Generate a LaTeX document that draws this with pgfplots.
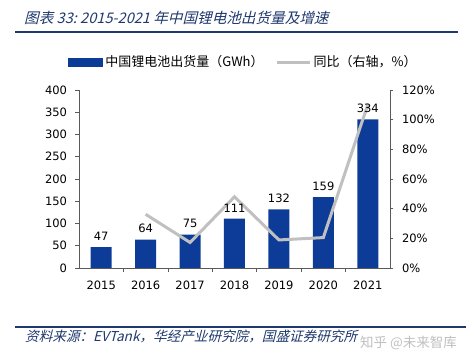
\documentclass[border=0pt]{standalone}
\usepackage{fontspec}
\setmainfont{DejaVu Sans}
\newfontfamily\cjk{Noto Sans CJK SC}
\newfontfamily\cjkit[FakeSlant=0.25]{Noto Sans CJK SC}
\usepackage{pgfplots}
\usepackage{pgfplotstable}
\pgfplotsset{compat=1.18}
\definecolor{barblue}{RGB}{12,60,152}
\definecolor{linegray}{RGB}{192,192,192}
\definecolor{navy}{RGB}{31,56,110}
\definecolor{axisgray}{RGB}{90,90,90}
\pgfplotstableread{
x y
0 47
1 64
2 75
3 111
4 132
5 159
6 334
}\shipments
\pgfplotstableread{
x g
1 36.2
2 17.2
3 48.0
4 18.9
5 20.5
6 110.1
}\growth
\pgfplotsset{common/.style={
  at={(79pt,95pt)}, anchor=south west, scale only axis,
  width=311pt, height=178pt, xmin=-0.5, xmax=6.5,
  /pgf/number format/assume math mode=true,
  ticklabel style={font=\fontsize{11.5}{13}\selectfont, text=black},
  axis line style={axisgray, line width=0.6pt},
  tick align=outside, tick style={axisgray, line width=0.6pt},
  major tick length=3.5pt, minor tick length=4pt}}
\begin{document}
\begin{tikzpicture}
\path[use as bounding box] (0pt,0pt) rectangle (474pt,363pt);
\node[anchor=west, text=navy, font=\cjkit\fontsize{14.6}{16}\selectfont, inner sep=0] at (24pt,345pt) {图表 33:\ 2015-2021 年中国锂电池出货量及增速};
\draw[navy, line width=1.6pt] (15pt,331pt) -- (458pt,331pt);
\draw[navy, line width=1.6pt] (15pt,36pt) -- (466pt,36pt);
\node[anchor=west, text=navy, font=\cjkit\fontsize{13.6}{15}\selectfont, inner sep=0] at (25pt,27pt) {资料来源：EVTank，华经产业研究院，国盛证券研究所};
\node[anchor=west, text=black!25, font=\cjk\fontsize{13.5}{15}\selectfont, inner sep=0] at (360pt,20pt) {知乎 @未来智库};
\begin{axis}[common,
  ymin=0, ymax=400,
  axis x line*=bottom, axis y line*=left,
  xtick={0,...,6}, xticklabels={2015,2016,2017,2018,2019,2020,2021},
  major x tick style={draw=none},
  minor xtick={0.5,1.5,...,5.5},
  ytick={0,50,...,400},
  xticklabel style={yshift=-6pt},
  yticklabel style={xshift=-5pt},
  legend columns=2,
  legend style={at={(0.529,1.157)}, anchor=center, draw=none, fill=none,
    font=\cjk\fontsize{13}{15}\selectfont,
    /tikz/every even column/.append style={column sep=10pt}},
]
\addplot[ybar, bar width=21pt, fill=barblue, draw=none, bar shift=0pt,
  legend image code/.code={\fill[barblue] (0pt,-4.5pt) rectangle (35pt,4.5pt);}]
  table[x=x, y=y] {\shipments};
\addlegendentry{中国锂电池出货量（GWh）}
\addlegendimage{linegray, line width=3pt, legend image code/.code={\draw[linegray, line width=3pt] (0pt,0pt) -- (33pt,0pt);}}
\addlegendentry{同比（右轴，\%）}
\end{axis}
\begin{axis}[common,
  ymin=0, ymax=120,
  axis x line=none, axis y line*=right,
  ytick={0,20,...,120},
  yticklabel={\pgfmathprintnumber{\tick}\%},
  yticklabel style={xshift=5pt},
]
\addplot[linegray, line width=3pt] table[x=x, y=g] {\growth};
\end{axis}
\begin{axis}[common, ymin=0, ymax=400, hide axis]
\addplot[draw=none, mark=none,
  nodes near coords,
  every node near coord/.append style={font=\fontsize{11.5}{13}\selectfont, text=black, yshift=3pt}]
  table[x=x, y=y] {\shipments};
\end{axis}
\end{tikzpicture}
\end{document}
